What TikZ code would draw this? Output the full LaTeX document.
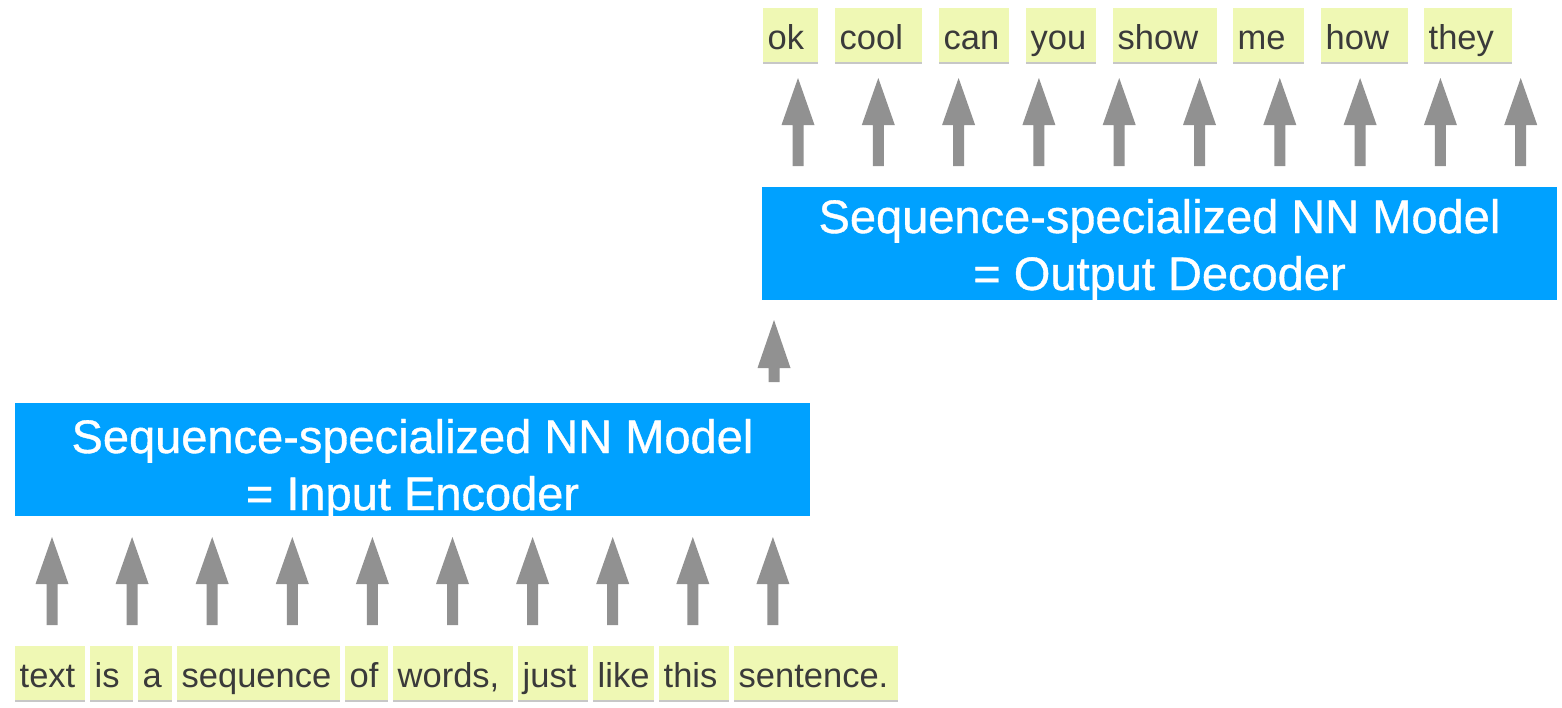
\documentclass[tikz,border=0pt]{standalone}
\usepackage{fontspec}
\setmainfont{Liberation Sans}
\newfontfamily\modelfont{Liberation Sans}[FakeBold=0.8]
\usetikzlibrary{shadows}
\definecolor{nnblue}{RGB}{0,161,255}
\definecolor{wordfill}{RGB}{239,248,180}
\definecolor{wordtext}{RGB}{58,58,58}
\definecolor{arrowgray}{RGB}{145,145,145}
\newcommand\fatarrow[4]{% x, tip, head base, bottom
  \fill[arrowgray] ({#1-5.5},#4) -- ({#1-5.5},#3) -- ({#1-16.5},#3) -- (#1,#2)
    -- ({#1+16.5},#3) -- ({#1+5.5},#3) -- ({#1+5.5},#4) -- cycle;}
\newcommand\wordbox[5]{% name, x0, x1, y0, text
  \pgfmathsetmacro\wwidth{#3-#2-9}
  \node[word, text width=\wwidth pt] (#1) at (#2,#4) {#5};}
\begin{document}
\begin{tikzpicture}[x=1pt,y=-1pt,
  word/.style={anchor=north west, fill=wordfill, text=wordtext,
    font=\fontsize{34.5}{40}\selectfont, inner xsep=4.5pt, inner ysep=0pt,
    text height=41pt, text depth=13pt, align=left,
    drop shadow={shadow xshift=0pt, shadow yshift=-2pt, opacity=0.22, fill=black}},
  model/.style={fill=nnblue, anchor=north west, minimum width=795pt,
    minimum height=113pt, inner sep=0pt},
  modeltext/.style={text=white, font=\modelfont\fontsize{47}{57}\selectfont, anchor=base, inner sep=0pt},
]
\useasboundingbox (0,0) rectangle (1562,707);

% model boxes
\node[model] (enc) at (15,403) {};
\node[model] (dec) at (762,187) {};
\begin{scope}
  \clip (enc.north west) rectangle (enc.south east);
  \node[modeltext] (enc1) at (412.5,453) {Sequence-specialized NN Model};
  \node[modeltext] (enc2) at (412.5,510) {= Input Encoder};
\end{scope}
\begin{scope}
  \clip (dec.north west) rectangle (dec.south east);
  \node[modeltext] (dec1) at (1159.5,233) {Sequence-specialized NN Model};
  \node[modeltext] (dec2) at (1159.5,290) {= Output Decoder};
\end{scope}

% input words
\wordbox{i1}{15}{85}{646}{text}
\wordbox{i2}{90}{133}{646}{is}
\wordbox{i3}{138}{172}{646}{a}
\wordbox{i4}{177}{340}{646}{sequence}
\wordbox{i5}{345}{388}{646}{of}
\wordbox{i6}{393}{513}{646}{words,}
\wordbox{i7}{518}{588}{646}{just}
\wordbox{i8}{593}{654}{646}{like}
\wordbox{i9}{659}{729}{646}{this}
\wordbox{i10}{734}{898}{646}{sentence.}

% output words
\wordbox{o1}{763}{818}{8}{ok}
\wordbox{o2}{835}{922}{8}{cool}
\wordbox{o3}{939}{1009}{8}{can}
\wordbox{o4}{1026}{1096}{8}{you}
\wordbox{o5}{1113}{1217}{8}{show}
\wordbox{o6}{1233}{1304}{8}{me}
\wordbox{o7}{1321}{1408}{8}{how}
\wordbox{o8}{1424}{1512}{8}{they}

% arrows
\foreach \i in {0,...,9} {
  \pgfmathsetmacro\ax{52+80.1*\i}
  \fatarrow{\ax}{537}{584}{625}
  \pgfmathsetmacro\bx{798+80.3*\i}
  \fatarrow{\bx}{78}{125}{166}
}
\fatarrow{774}{320}{368}{382}
\end{tikzpicture}
\end{document}
